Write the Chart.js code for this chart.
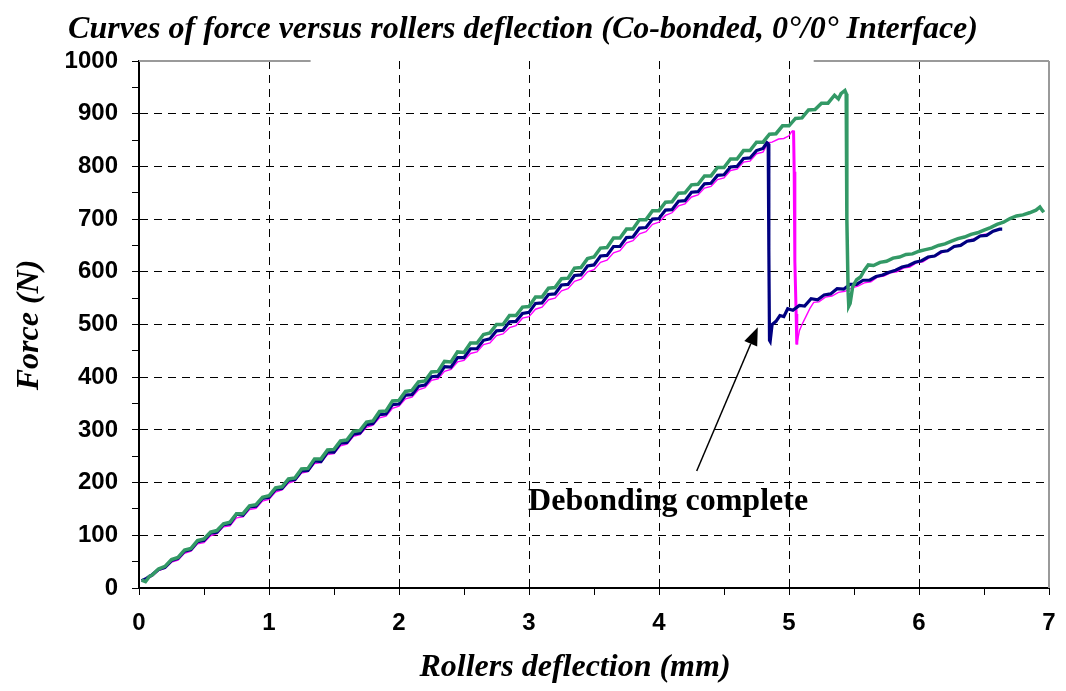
<!DOCTYPE html>
<html><head><meta charset="utf-8">
<script src="https://cdn.jsdelivr.net/npm/chart.js@4/dist/chart.umd.min.js"></script>
<style>html,body{margin:0;padding:0;background:#fff;}#wrap{width:1066px;height:691px;}</style>
</head><body><div id="wrap"><canvas id="c" width="1066" height="691"></canvas></div>
<script>
const chartTitle = 'Curves of force versus rollers deflection (Co-bonded, 0°/0° Interface)';
const xAxisTitle = 'Rollers deflection (mm)';
const yAxisTitle = 'Force (N)';
const annotationText = 'Debonding complete';
// annotation anchor points in data units [x (mm), force (N)]
const annotationTextAt = [4.07, 163];
const arrowFrom = [4.29, 222];
const arrowTo = [4.76, 495];
const topBorderGap = [1.32, 5.19];
const xRange = [0, 7];
const yRange = [0, 1000];

// Series 1 (navy)
const navyX = [0.02,0.05,0.08,0.1,0.15,0.2,0.25,0.3,0.35,0.4,0.45,0.5,0.55,0.6,0.65,0.7,0.75,0.8,0.85,0.9,0.95,1.0,1.05,1.1,1.15,1.2,1.25,1.3,1.35,1.4,1.45,1.5,1.55,1.6,1.65,1.7,1.75,1.8,1.85,1.9,1.95,2.0,2.05,2.1,2.15,2.2,2.25,2.3,2.35,2.4,2.45,2.5,2.55,2.6,2.65,2.7,2.75,2.8,2.85,2.9,2.95,3.0,3.05,3.1,3.15,3.2,3.25,3.3,3.35,3.4,3.45,3.5,3.55,3.6,3.65,3.7,3.75,3.8,3.85,3.9,3.95,4.0,4.05,4.1,4.15,4.2,4.25,4.3,4.35,4.4,4.45,4.5,4.55,4.6,4.65,4.7,4.75,4.8,4.83,4.84,4.845,4.85,4.855,4.87,4.9,4.93,4.96,4.99,5.03,5.08,5.12,5.17,5.22,5.27,5.32,5.37,5.42,5.47,5.52,5.57,5.62,5.67,5.72,5.77,5.82,5.87,5.92,5.97,6.02,6.07,6.12,6.17,6.22,6.27,6.32,6.37,6.42,6.47,6.52,6.57,6.62,6.64];
const navyY = [14,17,22,25,35,39,52,56,70,73,88,90,104,106,120,122,140,138,154,155,170,172,187,189,204,206,222,223,241,240,258,258,275,276,292,294,310,312,329,330,348,349,366,367,383,385,401,402,420,419,437,437,454,454,470,473,488,489,505,506,521,523,540,541,557,558,575,576,593,594,611,613,630,631,648,648,665,666,683,684,700,701,717,718,734,735,751,752,767,768,783,784,799,800,815,816,830,834,845,843,640,470,468,500,506,517,515,530,527,536,535,549,547,556,558,568,567,576,576,584,584,591,594,599,603,609,612,618,621,628,630,638,640,648,650,658,660,668,669,677,681,681];

// Series 2 (magenta)
const magentaX = [0.02,0.05,0.08,0.1,0.15,0.2,0.25,0.3,0.35,0.4,0.45,0.5,0.55,0.6,0.65,0.7,0.75,0.8,0.85,0.9,0.95,1.0,1.05,1.1,1.15,1.2,1.25,1.3,1.35,1.4,1.45,1.5,1.55,1.6,1.65,1.7,1.75,1.8,1.85,1.9,1.95,2.0,2.05,2.1,2.15,2.2,2.25,2.3,2.35,2.4,2.45,2.5,2.55,2.6,2.65,2.7,2.75,2.8,2.85,2.9,2.95,3.0,3.05,3.1,3.15,3.2,3.25,3.3,3.35,3.4,3.45,3.5,3.55,3.6,3.65,3.7,3.75,3.8,3.85,3.9,3.95,4.0,4.05,4.1,4.15,4.2,4.25,4.3,4.35,4.4,4.45,4.5,4.55,4.6,4.65,4.7,4.75,4.8,4.84,4.87,4.92,4.96,5.0,5.02,5.035,5.04,5.045,5.055,5.06,5.08,5.1,5.13,5.16,5.19,5.23,5.28,5.33,5.38,5.43,5.48,5.53,5.58,5.63,5.68,5.73,5.78,5.83,5.88,5.93,5.98,6.03,6.08,6.13,6.18,6.23,6.28,6.33,6.38,6.43,6.48,6.52];
const magentaY = [12,15,20,22,33,37,49,53,66,70,84,86,99,103,116,118,133,135,149,151,165,168,182,186,199,203,218,221,236,238,253,255,270,273,288,291,305,309,323,326,341,345,359,362,376,380,394,397,411,415,429,432,445,448,462,465,479,482,494,498,512,515,529,533,547,550,564,568,582,586,600,604,618,622,636,640,655,659,672,676,690,694,707,712,725,729,742,746,759,762,775,778,792,795,808,810,824,827,845,846,852,853,858,866,868,790,620,520,462,488,500,515,530,542,543,552,554,561,563,569,573,579,581,590,592,598,600,607,609,617,619,627,630,637,641,648,652,660,663,670,672];

// Series 3 (green)
const greenX = [0.02,0.05,0.08,0.1,0.15,0.2,0.25,0.3,0.35,0.4,0.45,0.5,0.55,0.6,0.65,0.7,0.75,0.8,0.85,0.9,0.95,1.0,1.05,1.1,1.15,1.2,1.25,1.3,1.35,1.4,1.45,1.5,1.55,1.6,1.65,1.7,1.75,1.8,1.85,1.9,1.95,2.0,2.05,2.1,2.15,2.2,2.25,2.3,2.35,2.4,2.45,2.5,2.55,2.6,2.65,2.7,2.75,2.8,2.85,2.9,2.95,3.0,3.05,3.1,3.15,3.2,3.25,3.3,3.35,3.4,3.45,3.5,3.55,3.6,3.65,3.7,3.75,3.8,3.85,3.9,3.95,4.0,4.05,4.1,4.15,4.2,4.25,4.3,4.35,4.4,4.45,4.5,4.55,4.6,4.65,4.7,4.75,4.8,4.85,4.9,4.95,5.0,5.05,5.1,5.15,5.2,5.25,5.3,5.35,5.38,5.4,5.43,5.44,5.445,5.455,5.46,5.47,5.49,5.52,5.55,5.58,5.61,5.65,5.7,5.75,5.8,5.85,5.9,5.95,6.0,6.05,6.1,6.15,6.2,6.25,6.3,6.35,6.4,6.45,6.5,6.55,6.6,6.65,6.7,6.75,6.8,6.85,6.9,6.93,6.95,6.96];
const greenY = [15,12,22,24,36,41,54,58,72,75,90,93,106,109,122,125,141,141,156,158,172,175,190,192,207,209,226,227,245,245,262,263,279,281,297,299,315,317,335,336,355,356,373,375,391,393,410,411,430,429,448,447,465,465,481,484,500,500,517,517,533,534,552,552,569,570,587,588,607,608,625,628,645,646,664,664,681,681,699,699,716,716,732,733,749,750,765,766,782,782,798,798,814,814,830,830,846,846,861,862,877,877,891,892,907,908,920,920,935,928,938,944,938,700,560,535,540,572,585,590,603,613,612,618,620,626,628,633,634,639,642,645,650,653,658,663,666,671,674,679,684,690,694,701,706,708,712,717,723,716,713];

const toPts = (xs, ys) => xs.map((x, i) => ({x, y: ys[i]}));

const deco = {
  id: 'deco',
  beforeDatasetsDraw(chart) {
    const {ctx, chartArea: a, scales: {x}} = chart;
    ctx.save();
    ctx.strokeStyle = '#9a9a9a';
    ctx.lineWidth = 2;
    ctx.beginPath();
    ctx.moveTo(a.right, a.top); ctx.lineTo(a.right, a.bottom);
    ctx.moveTo(a.left, a.top); ctx.lineTo(x.getPixelForValue(topBorderGap[0]), a.top);
    ctx.moveTo(x.getPixelForValue(topBorderGap[1]), a.top); ctx.lineTo(a.right, a.top);
    ctx.stroke();
    ctx.restore();
  },
  afterDraw(chart) {
    const {ctx, scales: {x, y}} = chart;
    ctx.save();
    ctx.fillStyle = '#000';
    ctx.textAlign = 'center';
    ctx.textBaseline = 'middle';
    ctx.font = 'bold italic 32px "Liberation Serif"';
    ctx.fillText(chartTitle, 523, 30);
    ctx.fillText(xAxisTitle, 575, 668);
    ctx.save();
    ctx.translate(30, 325);
    ctx.rotate(-Math.PI / 2);
    ctx.fillText(yAxisTitle, 0, 0);
    ctx.restore();
    ctx.font = 'bold 32px "Liberation Serif"';
    ctx.fillText(annotationText, x.getPixelForValue(annotationTextAt[0]), y.getPixelForValue(annotationTextAt[1]));
    // arrow
    const x1 = x.getPixelForValue(arrowFrom[0]), y1 = y.getPixelForValue(arrowFrom[1]);
    const x2 = x.getPixelForValue(arrowTo[0]), y2 = y.getPixelForValue(arrowTo[1]);
    const ang = Math.atan2(y2 - y1, x2 - x1);
    const hl = 18, hw = 7;
    const bx = x2 - hl * Math.cos(ang), by = y2 - hl * Math.sin(ang);
    ctx.strokeStyle = '#000';
    ctx.lineWidth = 1.5;
    ctx.beginPath(); ctx.moveTo(x1, y1); ctx.lineTo(bx, by); ctx.stroke();
    ctx.beginPath();
    ctx.moveTo(x2, y2);
    ctx.lineTo(bx + hw * Math.sin(ang), by - hw * Math.cos(ang));
    ctx.lineTo(bx - hw * Math.sin(ang), by + hw * Math.cos(ang));
    ctx.closePath(); ctx.fill();
    ctx.restore();
  }
};

const dropWidth = (thin, thick) => ({
  borderWidth: c => Math.abs(c.p0.parsed.y - c.p1.parsed.y) > 40 && Math.abs(c.p0.parsed.x - c.p1.parsed.x) < 0.02 ? thick : thin
});

new Chart(document.getElementById('c'), {
  type: 'scatter',
  data: {
    datasets: [
      {label: 'green', data: toPts(greenX, greenY), showLine: true, borderColor: '#339966', borderWidth: 3.5, pointRadius: 0, order: 0, tension: 0},
      {label: 'navy', data: toPts(navyX, navyY), showLine: true, borderColor: '#000080', borderWidth: 3.2, pointRadius: 0, order: 1, tension: 0},
      {label: 'magenta', data: toPts(magentaX, magentaY), showLine: true, borderColor: '#FF00FF', borderWidth: 1.4, pointRadius: 0, order: 2, tension: 0, segment: dropWidth(1.4, 3)}
    ]
  },
  options: {
    responsive: false,
    animation: false,
    devicePixelRatio: 1,
    layout: {padding: {top: 61, right: 17, left: 0, bottom: 0}},
    plugins: {legend: {display: false}, tooltip: {enabled: false}, title: {display: false}},
    scales: {
      x: {
        type: 'linear', min: xRange[0], max: xRange[1],
        afterFit: s => { s.height = 103; s.paddingRight = 0; s.paddingLeft = 0; },
        ticks: {stepSize: 0.5, autoSkip: false, maxRotation: 0, padding: 14, color: '#000',
          font: {family: '"Liberation Sans", Arial', weight: 'bold', size: 24},
          callback: v => Number.isInteger(v) ? String(v) : ''},
        grid: {color: c => (c.tick && Number.isInteger(c.tick.value) && c.tick.value > xRange[0] && c.tick.value < xRange[1]) ? '#000' : 'rgba(0,0,0,0)',
          lineWidth: 1, tickColor: '#000', tickLength: 7, tickWidth: 1},
        border: {display: true, color: '#000', width: 2, dash: [8, 6]}
      },
      y: {
        type: 'linear', min: yRange[0], max: yRange[1],
        afterFit: s => { s.width = 139; s.paddingTop = 0; s.paddingBottom = 0; },
        ticks: {stepSize: 50, autoSkip: false, padding: 14, color: '#000',
          font: {family: '"Liberation Sans", Arial', weight: 'bold', size: 24},
          callback: v => v % 100 === 0 ? String(v) : ''},
        grid: {color: c => (c.tick && c.tick.value % 100 === 0 && c.tick.value > yRange[0] && c.tick.value < yRange[1]) ? '#000' : 'rgba(0,0,0,0)',
          lineWidth: 1, tickColor: '#000', tickLength: 7, tickWidth: 1},
        border: {display: true, color: '#000', width: 2, dash: [8, 6]}
      }
    }
  },
  plugins: [deco]
});
</script></body></html>
